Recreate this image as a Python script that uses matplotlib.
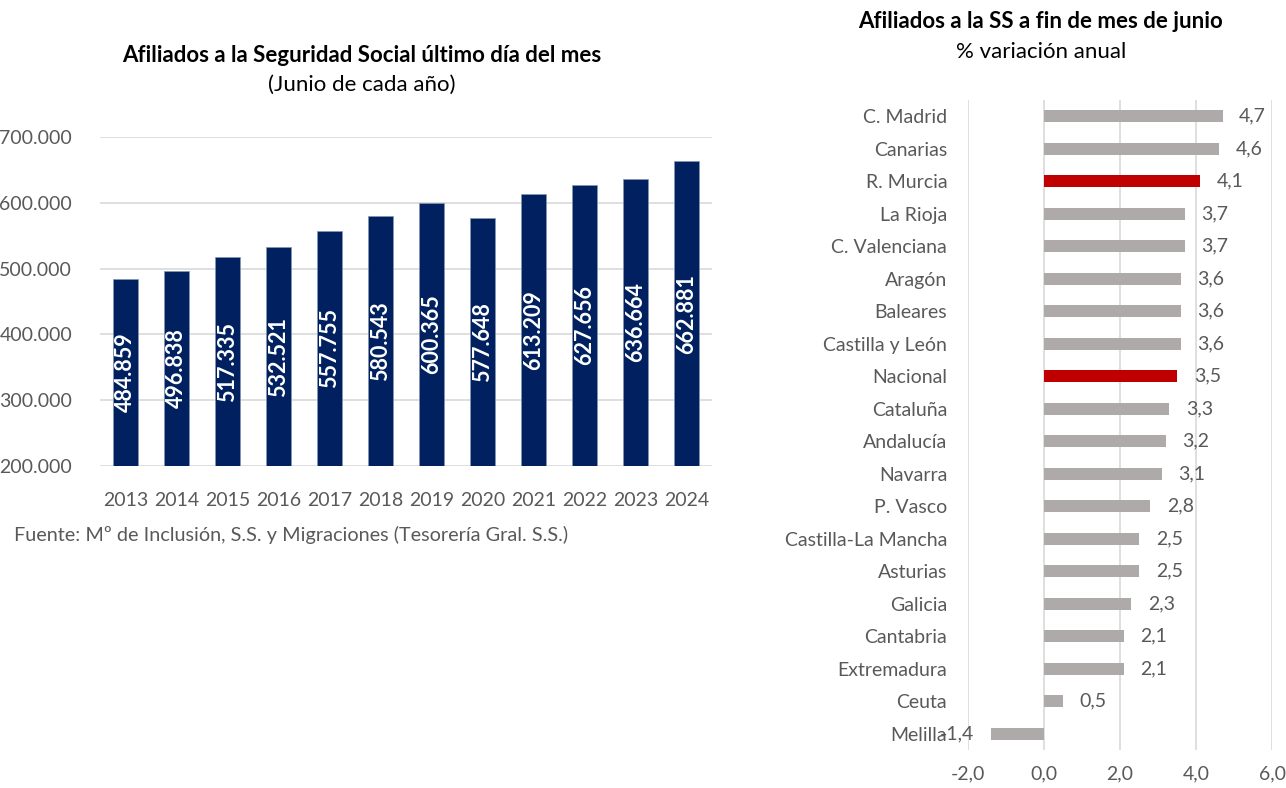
import matplotlib.pyplot as plt

plt.rcParams['font.family'] = ['Lato', 'DejaVu Sans']

# Datos: afiliados a la Seguridad Social, junio de cada año
years = ['2013', '2014', '2015', '2016', '2017', '2018',
         '2019', '2020', '2021', '2022', '2023', '2024']
afiliados = [484859, 496838, 517335, 532521, 557755, 580543,
             600365, 577648, 613209, 627656, 636664, 662881]

# Datos: % variación anual por comunidad
regions = ['C. Madrid', 'Canarias', 'R. Murcia', 'La Rioja', 'C. Valenciana',
           'Aragón', 'Baleares', 'Castilla y León', 'Nacional', 'Cataluña',
           'Andalucía', 'Navarra', 'P. Vasco', 'Castilla-La Mancha', 'Asturias',
           'Galicia', 'Cantabria', 'Extremadura', 'Ceuta', 'Melilla']
variacion = [4.7, 4.6, 4.1, 3.7, 3.7, 3.6, 3.6, 3.6, 3.5, 3.3,
             3.2, 3.1, 2.8, 2.5, 2.5, 2.3, 2.1, 2.1, 0.5, -1.4]
highlight = ['R. Murcia', 'Nacional']

navy = '#002060'
grey_bar = '#AEAAAA'
red = '#C00000'
grid_c = '#D9D9D9'
txt = '#595959'

def miles(v):
    return f"{v:,.0f}".replace(',', '.')

fig = plt.figure(figsize=(12.86, 7.88), dpi=100)

# ---- grafico izquierdo: barras verticales ----
ax1 = fig.add_axes([100/1286, 1 - 466/788, 612/1286, 329/788])
ymin = 200000
x = range(len(years))
ax1.bar(x, [v - ymin for v in afiliados], bottom=ymin, width=0.48,
        color=navy, edgecolor='#8497B0', linewidth=0.5, zorder=3)
for i, v in enumerate(afiliados):
    ax1.text(i, (ymin + v) / 2, miles(v), rotation=90, ha='center', va='center',
             color='white', fontsize=15.5, fontweight='bold', zorder=4)
ax1.set_xlim(-0.5, len(years) - 0.5)
ax1.set_ylim(ymin, 700000)
ax1.set_yticks(range(200000, 700001, 100000))
ax1.set_yticklabels([miles(t) for t in range(200000, 700001, 100000)])
ax1.set_xticks(list(x))
ax1.set_xticklabels(years)
ax1.tick_params(axis='y', length=0, pad=20, labelsize=14, labelcolor=txt)
ax1.tick_params(axis='x', length=0, pad=19, labelsize=14, labelcolor=txt)
ax1.yaxis.grid(True, color=grid_c, linewidth=1.2, zorder=0)
for s in ax1.spines.values():
    s.set_visible(False)

fig.text(362/1286, 1 - 55/788, 'Afiliados a la Seguridad Social último día del mes',
         ha='center', va='center', fontsize=16, fontweight='bold', color='black')
fig.text(362/1286, 1 - 85/788, '(Junio de cada año)',
         ha='center', va='center', fontsize=16, color='black')
fig.text(14/1286, 1 - 535/788, 'Fuente: Mº de Inclusión, S.S. y Migraciones (Tesorería Gral. S.S.)',
         ha='left', va='center', fontsize=14.3, color=txt)

# ---- grafico derecho: barras horizontales ----
ax2 = fig.add_axes([968/1286, 1 - 750/788, 304/1286, 650/788])
ypos = list(range(len(regions)))[::-1]
colors = [red if r in highlight else grey_bar for r in regions]
ax2.barh(ypos, variacion, height=0.37, color=colors, zorder=3)
for yy, v in zip(ypos, variacion):
    lab = f"{v:.1f}".replace('.', ',')
    if v >= 0:
        ax2.annotate(lab, (v, yy), xytext=(12, 0), textcoords='offset points',
                     ha='left', va='center', fontsize=14, color=txt)
    else:
        ax2.annotate(lab, (v, yy), xytext=(-12, 0), textcoords='offset points',
                     ha='right', va='center', fontsize=14, color=txt)
ax2.set_xlim(-2, 6)
ax2.set_ylim(-0.5, len(regions) - 0.5)
ax2.set_xticks([-2, 0, 2, 4, 6])
ax2.set_xticklabels([f"{t:.1f}".replace('.', ',') for t in [-2, 0, 2, 4, 6]])
ax2.set_yticks(ypos)
ax2.set_yticklabels(regions)
ax2.tick_params(axis='y', length=0, pad=15, labelsize=14, labelcolor=txt)
ax2.tick_params(axis='x', length=0, pad=11, labelsize=14, labelcolor=txt)
ax2.xaxis.grid(True, color=grid_c, linewidth=1.2, zorder=0)
for s in ax2.spines.values():
    s.set_visible(False)

fig.text(1041/1286, 1 - 22/788, 'Afiliados a la SS a fin de mes de junio',
         ha='center', va='center', fontsize=16, fontweight='bold', color='black')
fig.text(1041/1286, 1 - 52/788, '% variación anual',
         ha='center', va='center', fontsize=16, color='black')

plt.savefig('out.png', dpi=100)
plt.close()
